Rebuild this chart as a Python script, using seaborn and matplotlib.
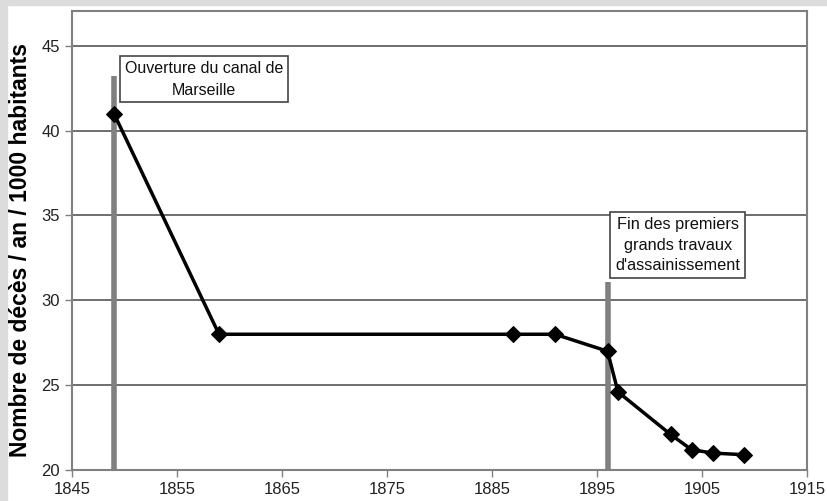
import matplotlib
matplotlib.use("Agg")
import matplotlib.pyplot as plt
import seaborn as sns
import pandas as pd
from matplotlib.patches import Rectangle

years = [1849, 1859, 1887, 1891, 1896, 1897, 1902, 1904, 1906, 1909]
deaths = [41.0, 28.0, 28.0, 28.0, 27.0, 24.6, 22.1, 21.2, 21.0, 20.9]
event_years = [1849, 1896]
event_tops = [43.2, 31.1]
event_labels = ["Ouverture du canal de\nMarseille", "Fin des premiers\ngrands travaux\nd'assainissement"]
xticks = [1845, 1855, 1865, 1875, 1885, 1895, 1905, 1915]
yticks = [20, 25, 30, 35, 40, 45]
ylabel = "Nombre de décès / an / 1000 habitants"

sns.set_theme(style="white")
plt.rcParams['font.family'] = ['Liberation Sans Narrow', 'Liberation Sans', 'DejaVu Sans']

df = pd.DataFrame({"annee": years, "deces": deaths})

fig = plt.figure(figsize=(8.27, 5.01), dpi=100, facecolor="white")
# gray frame strips
fig.patches.append(Rectangle((0, 0), 7/827, 1, transform=fig.transFigure, color="#dcdcdc", zorder=0))
fig.patches.append(Rectangle((0, 1 - 5/501), 1, 5/501, transform=fig.transFigure, color="#dcdcdc", zorder=0))

ax = fig.add_axes([72/827, 1 - 470/501, (807 - 72)/827, (470 - 11)/501])
ax.set_xlim(1845, 1915)
ax.set_ylim(20, 47.05)

for y in yticks[1:]:
    ax.axhline(y, color="#555555", lw=1.2, zorder=1)

for x, top in zip(event_years, event_tops):
    ax.plot([x, x], [20, top], color="#808080", lw=4, solid_capstyle="butt", zorder=2)

sns.lineplot(data=df, x="annee", y="deces", ax=ax, color="black", lw=2.5,
             marker="D", markersize=8, markeredgecolor="black", zorder=3)

box = dict(boxstyle="square,pad=0.3", fc="white", ec="#444444", lw=1.2)
ax.text(1857.6, 43.02, event_labels[0], ha="center", va="center", fontsize=11.5,
        color="#111111", bbox=box, zorder=4, linespacing=1.55)
ax.text(1902.7, 33.25, event_labels[1], ha="center", va="center", fontsize=11.8,
        color="#111111", bbox=box, zorder=4, linespacing=1.45)

ax.set_xticks(xticks)
ax.set_yticks(yticks)
ax.tick_params(axis="both", direction="out", length=5, width=1, color="#808080",
               labelsize=12, labelcolor="#222222", bottom=True, left=True)
for s in ax.spines.values():
    s.set_color("#808080")
    s.set_linewidth(1.5)
ax.set_xlabel("")
ax.set_ylabel("")
fig.text(21/827, 1 - 250/501, ylabel, rotation=90, ha="center", va="center",
         fontsize=16.5, fontweight="bold", color="black",
         family=['Liberation Sans', 'DejaVu Sans'])

fig.savefig("out.png", dpi=100, facecolor=fig.get_facecolor())
